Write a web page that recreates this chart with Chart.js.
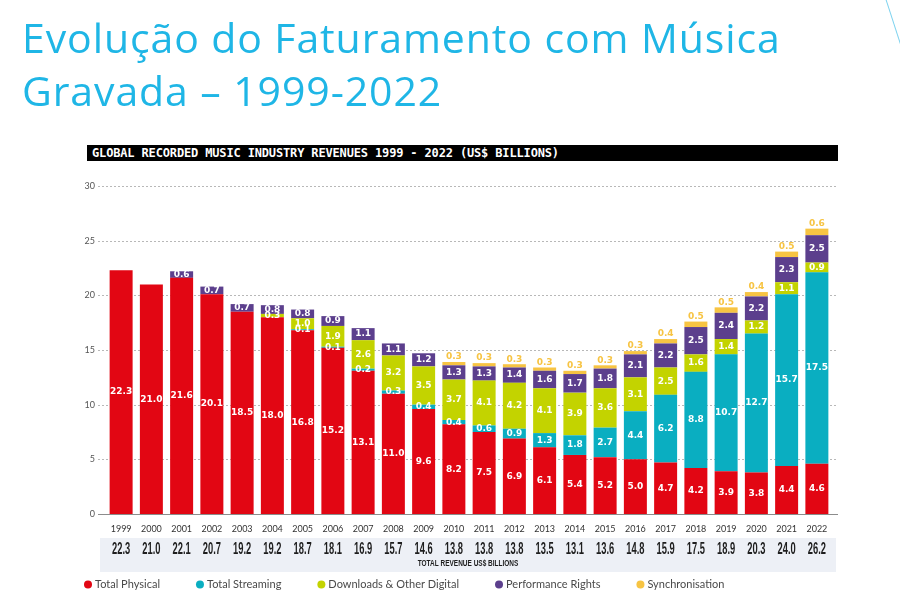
<!DOCTYPE html>
<html lang="pt">
<head>
<meta charset="UTF-8">
<title>Evolução do Faturamento com Música Gravada</title>
<script src="https://cdn.jsdelivr.net/npm/chart.js@4.4.0/dist/chart.umd.min.js"></script>
<style>
  body { margin: 0; width: 900px; height: 598px; overflow: hidden; background: #fff; position: relative; }
  #title { position: absolute; left: 22px; top: 11px; font-family: "Open Sans", sans-serif; font-weight: 500; font-size: 41px; line-height: 53px;
           letter-spacing: 0.9px; color: #1fb6e6; z-index: 2; }
  #header { position: absolute; left: 87px; top: 145px; width: 751px; height: 16px; background: #000; color: #fff;
            font: bold 12px "DejaVu Sans Mono", monospace; line-height: 16px; padding-left: 5px; letter-spacing: -0.15px; box-sizing: border-box; z-index: 2; }
  #deco { position: absolute; left: 884px; top: -5px; width: 1px; height: 55px; background: #7fd3ef; transform: rotate(-18deg); transform-origin: top left; }
  canvas { position: absolute; left: 0; top: 0; }
</style>
</head>
<body>
<div id="title">Evolução do Faturamento com Música<br>Gravada – 1999-2022</div>
<div id="header">GLOBAL RECORDED MUSIC INDUSTRY REVENUES 1999 - 2022 (US$ BILLIONS)</div>
<div id="deco"></div>
<canvas id="myChart" width="900" height="598"></canvas>
<script>
const years = ['1999', '2000', '2001', '2002', '2003', '2004', '2005', '2006', '2007', '2008', '2009', '2010',
               '2011', '2012', '2013', '2014', '2015', '2016', '2017', '2018', '2019', '2020', '2021', '2022'];
const physical   = [22.3, 21.0, 21.6, 20.1, 18.5, 18.0, 16.8, 15.2, 13.1, 11.0, 9.6, 8.2, 7.5, 6.9, 6.1, 5.4, 5.2, 5.0, 4.7, 4.2, 3.9, 3.8, 4.4, 4.6];
const streaming  = [0, 0, 0, 0, 0, 0, 0.1, 0.1, 0.2, 0.3, 0.4, 0.4, 0.6, 0.9, 1.3, 1.8, 2.7, 4.4, 6.2, 8.8, 10.7, 12.7, 15.7, 17.5];
const downloads  = [0, 0, 0, 0, 0, 0.3, 1.0, 1.9, 2.6, 3.2, 3.5, 3.7, 4.1, 4.2, 4.1, 3.9, 3.6, 3.1, 2.5, 1.6, 1.4, 1.2, 1.1, 0.9];
const perfRights = [0, 0, 0.6, 0.7, 0.7, 0.8, 0.8, 0.9, 1.1, 1.1, 1.2, 1.3, 1.3, 1.4, 1.6, 1.7, 1.8, 2.1, 2.2, 2.5, 2.4, 2.2, 2.3, 2.5];
const syncs      = [0, 0, 0, 0, 0, 0, 0, 0, 0, 0, 0, 0.3, 0.3, 0.3, 0.3, 0.3, 0.3, 0.3, 0.4, 0.5, 0.5, 0.4, 0.5, 0.6];
const totals     = ['22.3', '21.0', '22.1', '20.7', '19.2', '19.2', '18.7', '18.1', '16.9', '15.7', '14.6', '13.8',
                    '13.8', '13.8', '13.5', '13.1', '13.6', '14.8', '15.9', '17.5', '18.9', '20.3', '24.0', '26.2'];
const yTicks = [0, 5, 10, 15, 20, 25, 30];

const seriesNames  = ['Total Physical', 'Total Streaming', 'Downloads & Other Digital', 'Performance Rights', 'Synchronisation'];
const seriesData   = [physical, streaming, downloads, perfRights, syncs];
const seriesColors = ['#e20613', '#0aaec1', '#c3d300', '#5c3f8d', '#f7c443'];

function condensedText(ctx, text, x, y, font, sx) {
    ctx.save();
    ctx.translate(x, y);
    ctx.scale(sx, 1);
    ctx.font = font;
    ctx.textAlign = 'center';
    ctx.textBaseline = 'middle';
    ctx.fillText(text, 0, 0);
    ctx.restore();
}

const extras = {
    id: 'extras',
    beforeDatasetsDraw(chart) {
        const { ctx, chartArea: a, scales: { y } } = chart;
        ctx.save();
        ctx.strokeStyle = '#b8b8b8';
        ctx.lineWidth = 1;
        ctx.setLineDash([2, 2]);
        yTicks.forEach(v => {
            if (v === 0) return;
            const py = Math.round(y.getPixelForValue(v)) + 0.5;
            ctx.beginPath();
            ctx.moveTo(a.left - 8, py);
            ctx.lineTo(a.right + 6, py);
            ctx.stroke();
        });
        ctx.restore();
    },
    afterDatasetsDraw(chart) {
        const { ctx } = chart;
        ctx.save();
        ctx.font = 'bold 9px "DejaVu Sans", sans-serif';
        ctx.textAlign = 'center';
        ctx.textBaseline = 'middle';
        chart.data.datasets.forEach((ds, i) => {
            const meta = chart.getDatasetMeta(i);
            meta.data.forEach((bar, j) => {
                const v = ds.data[j];
                if (!v) return;
                const txt = v.toFixed(1);
                if (i === 4) {
                    ctx.fillStyle = seriesColors[4];
                    ctx.fillText(txt, bar.x, bar.y - 5);
                } else {
                    ctx.fillStyle = '#ffffff';
                    ctx.fillText(txt, bar.x, (bar.y + bar.base) / 2);
                }
            });
        });
        ctx.restore();
    },
    afterDraw(chart) {
        const { ctx, chartArea: a, scales: { x, y } } = chart;
        ctx.save();
        // zero line
        const p0 = Math.round(y.getPixelForValue(0)) + 0.5;
        ctx.strokeStyle = '#8c8c8c';
        ctx.lineWidth = 1;
        ctx.beginPath();
        ctx.moveTo(a.left - 8, p0);
        ctx.lineTo(a.right + 6, p0);
        ctx.stroke();

        // totals band
        const bandL = a.left - 6, bandR = a.right + 4;
        ctx.fillStyle = '#edf0f6';
        ctx.fillRect(bandL, 538, bandR - bandL, 34);
        ctx.fillStyle = '#1e1e1e';
        totals.forEach((t, i) => {
            condensedText(ctx, t, x.getPixelForValue(i), 549.5, 'bold 17px "Liberation Sans", Arial, sans-serif', 0.55);
        });
        condensedText(ctx, 'TOTAL REVENUE US$ BILLIONS', (bandL + bandR) / 2, 563.5, 'bold 9px "Liberation Sans", Arial, sans-serif', 0.72);

        // legend
        ctx.font = '11px Lato, sans-serif';
        ctx.textAlign = 'left';
        ctx.textBaseline = 'middle';
        let lx = 88;
        seriesNames.forEach((name, i) => {
            ctx.fillStyle = seriesColors[i];
            ctx.beginPath();
            ctx.arc(lx, 584.5, 4, 0, Math.PI * 2);
            ctx.fill();
            ctx.fillStyle = '#4a4a4a';
            ctx.fillText(name, lx + 7, 584.5);
            lx += 7 + ctx.measureText(name).width + 40;
        });
        ctx.restore();
    }
};

const ctx = document.getElementById('myChart').getContext('2d');
const myChart = new Chart(ctx, {
    type: 'bar',
    data: {
        labels: years,
        datasets: seriesData.map((d, i) => ({
            label: seriesNames[i],
            data: d,
            backgroundColor: seriesColors[i],
            borderWidth: 0,
            categoryPercentage: 1,
            barPercentage: 0.76
        }))
    },
    options: {
        responsive: false,
        animation: false,
        devicePixelRatio: 1,
        layout: { padding: { top: 186, right: 68, bottom: 0, left: 0 } },
        plugins: {
            legend: { display: false },
            title: { display: false },
            tooltip: { enabled: false }
        },
        scales: {
            x: {
                stacked: true,
                grid: { display: false, drawTicks: false },
                border: { display: false },
                ticks: { color: '#333', font: { family: 'Lato', size: 9 }, padding: 10, maxRotation: 0, autoSkip: false },
                afterFit: s => { s.height = 84; }
            },
            y: {
                stacked: true,
                min: 0,
                max: 30,
                grid: { display: false, drawTicks: false },
                border: { display: false },
                ticks: { stepSize: 5, color: '#555', font: { family: 'Lato', size: 9 }, padding: 11 },
                afterFit: s => { s.width = 106; }
            }
        }
    },
    plugins: [extras]
});
</script>
</body>
</html>
